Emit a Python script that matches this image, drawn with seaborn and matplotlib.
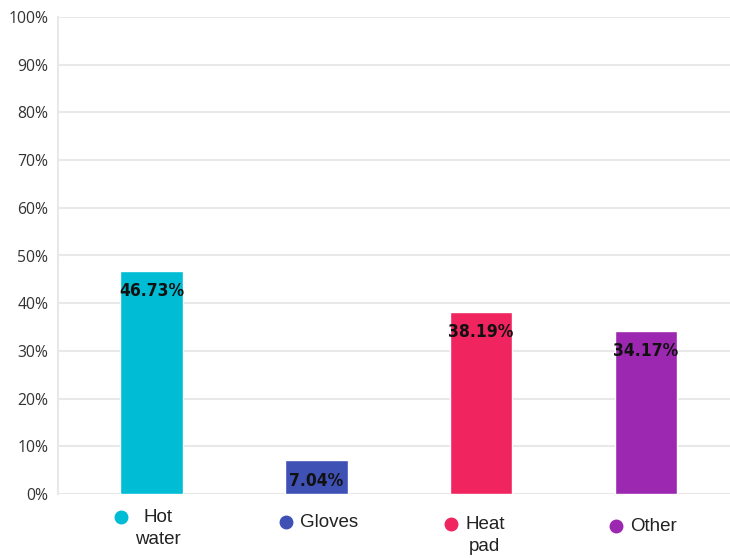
import matplotlib
matplotlib.use("Agg")
import matplotlib.pyplot as plt
import matplotlib.transforms as mtransforms
from matplotlib import font_manager
import seaborn as sns
import pandas as pd

categories = ["Hot\nwater", "Gloves", "Heat\npad", "Other"]
values = [46.73, 7.04, 38.19, 34.17]
colors = ["#00BCD4", "#3F51B5", "#F0245F", "#9C27B0"]
yticks = [0, 10, 20, 30, 40, 50, 60, 70, 80, 90, 100]

sns.set_theme(style="white")
names = {f.name for f in font_manager.fontManager.ttflist}
has_narrow = "Liberation Sans Narrow" in names
plt.rcParams["font.family"] = ["Open Sans", "DejaVu Sans"]

df = pd.DataFrame({"cat": categories, "val": values})

fig = plt.figure(figsize=(7.3, 5.58), dpi=100)
ax = fig.add_axes([58 / 730, 64 / 558, 1 - 58 / 730, (494 - 17) / 558])

sns.barplot(data=df, x="cat", y="val", hue="cat", palette=colors, legend=False,
            width=0.38, ax=ax, saturation=1, zorder=3)

ax.set_ylim(0, 100)
ax.set_xlim(-0.567, 3.51)
ax.set_yticks(yticks)
ax.set_yticklabels([f"{t}%" for t in yticks], fontsize=11.3, color="#333333")
ax.tick_params(axis="y", length=0, pad=7)
ax.set_xticks([])
ax.set_xlabel("")
ax.set_ylabel("")
ax.grid(axis="y", color="#e8e8e8", linewidth=1.5, zorder=0)
ax.set_axisbelow(True)
for s in ["top", "right", "bottom"]:
    ax.spines[s].set_visible(False)
ax.spines["left"].set_color("#e8e8e8")
ax.spines["left"].set_linewidth(1.5)

# bar value labels
for i, v in enumerate(values):
    if has_narrow:
        kw = dict(family=["Liberation Sans Narrow", "DejaVu Sans"])
    else:
        kw = dict(family=["DejaVu Sans"], fontstretch="condensed")
    ax.annotate(f"{v:.2f}%", xy=(i, v), xytext=(0, -8), textcoords="offset points",
                ha="center", va="top", fontsize=12.5, fontweight="bold",
                color="#111111", zorder=5, **kw)

# category labels with colored dots (row is slightly sloped in the reference)
trans = mtransforms.blended_transform_factory(ax.transData, fig.transFigure)
row_shift = [0, 5, 7, 9]
for i, (c, col) in enumerate(zip(categories, colors)):
    ytop_px = 509 + row_shift[i]
    y_dot = 1 - (ytop_px + 8) / 558
    dot_off = mtransforms.offset_copy(trans, fig=fig, x=-30, y=0, units="dots")
    ax.plot([i], [y_dot], marker="o", markersize=9, color=col, transform=dot_off,
            clip_on=False, linestyle="none")
    txt_off = mtransforms.offset_copy(trans, fig=fig, x=-16, y=0, units="dots")
    ax.text(i, 1 - ytop_px / 558, c, transform=txt_off, ha="left", va="top",
            fontsize=13.5, family=["Liberation Sans", "DejaVu Sans"], color="#222222",
            multialignment="center", linespacing=1.35)

fig.savefig("out.png", dpi=100)
